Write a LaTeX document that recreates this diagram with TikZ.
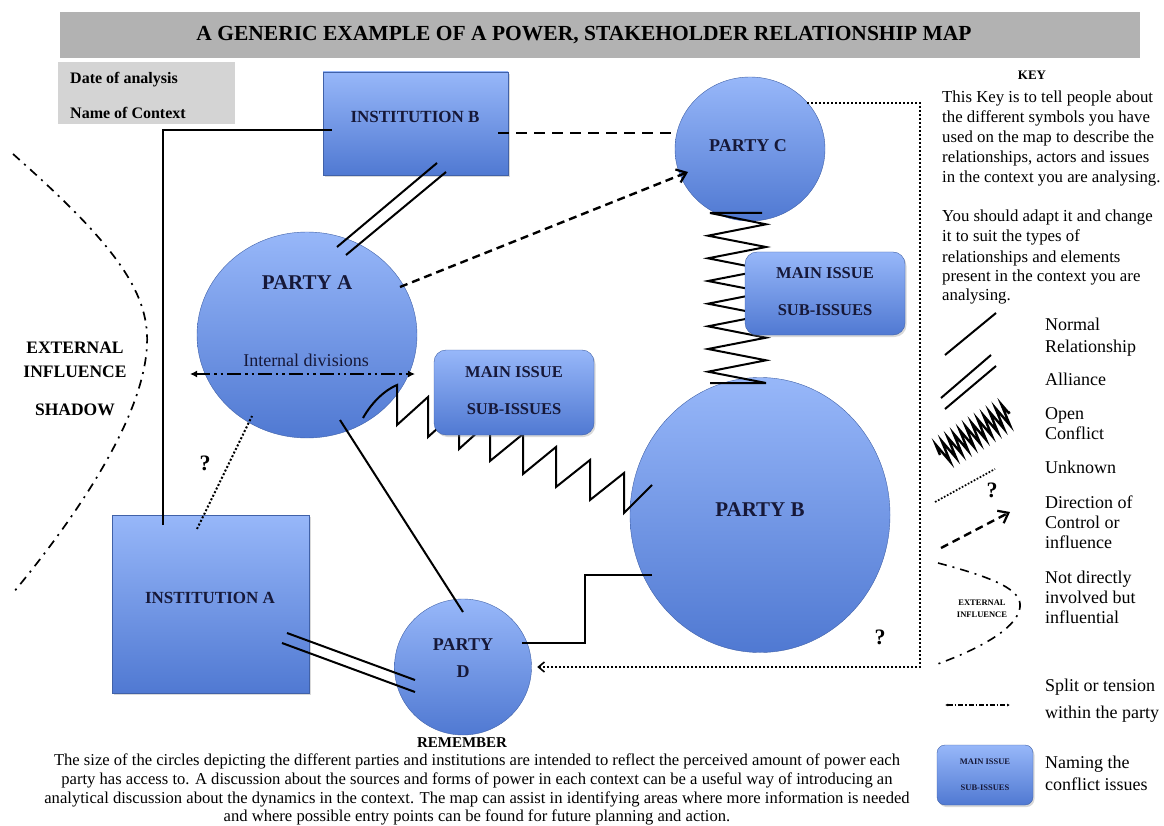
\documentclass[tikz,border=0pt]{standalone}
\usepackage{fontspec}
\setmainfont{Liberation Serif}
\usetikzlibrary{arrows.meta,decorations.pathmorphing,shapes.geometric,shadows,calc}
\definecolor{navy}{HTML}{161838}
\definecolor{btop}{HTML}{97B7F9}
\definecolor{bbot}{HTML}{5079D2}
\definecolor{titlegray}{HTML}{B2B2B2}
\definecolor{dategray}{HTML}{D4D4D4}
\newcommand{\fsz}[1]{\fontsize{#1}{#1}\selectfont}
\begin{document}
\begin{tikzpicture}[x=1pt,y=-1pt,
  blob/.style={top color=btop,bottom color=bbot,draw=bbot!80!black,line width=0.4pt},
  partyshape/.style={blob,ellipse,inner sep=0pt},
  boxshape/.style={blob,rectangle,inner sep=0pt,drop shadow={shadow xshift=1.5pt,shadow yshift=-2pt,opacity=0.3}},
  issueshape/.style={blob,rectangle,rounded corners=12pt,inner sep=0pt,drop shadow={shadow xshift=1.5pt,shadow yshift=-2pt,opacity=0.3}},
  lbl/.style={text=navy,align=center,inner sep=0pt},
  rel/.style={line width=2pt},
  dotline/.style={line width=2pt,dash pattern=on 2pt off 2pt},
  dashline/.style={line width=2pt,dash pattern=on 11pt off 7pt},
  ctrl/.style={line width=2.4pt,dash pattern=on 8pt off 5pt},
  dashdotline/.style={line width=1.7pt,dash pattern=on 9pt off 6pt on 2pt off 6pt},
  keytext/.style={anchor=base west,inner sep=0pt,font=\fsz{18}},
  paratext/.style={anchor=base west,inner sep=0pt,font=\fsz{16.8}},
  bottext/.style={anchor=base,inner sep=0pt,font=\fsz{16.6}},
  barb/.style={-{Straight Barb[length=9pt,width=14pt,line width=2.2pt]}},
]
\useasboundingbox (0,0) rectangle (1164,826);

% title and date box
\node[fill=titlegray,minimum width=1080pt,minimum height=46pt,inner sep=0pt] (title) at (600,35) {};
\node[inner sep=0pt,font=\bfseries\fsz{21.5}] (titletext) at (584,35) {A GENERIC EXAMPLE OF A POWER, STAKEHOLDER RELATIONSHIP MAP};
\node[fill=dategray,minimum width=177pt,minimum height=62pt,inner sep=0pt] (datebox) at (146.5,93) {};
\node[anchor=base west,inner sep=0pt,font=\bfseries\fsz{16}] (date) at (70,84) {Date of analysis};
\node[anchor=base west,inner sep=0pt,font=\bfseries\fsz{16}] (ctx) at (70,119) {Name of Context};

% actors
\node[boxshape,minimum width=185pt,minimum height=103pt] (ib) at (415.5,123.5) {};
\node[boxshape,minimum width=197pt,minimum height=178pt] (ia) at (210.5,604) {};
\node[partyshape,minimum width=220pt,minimum height=206pt] (pa) at (307,335) {};
\node[partyshape,minimum width=260pt,minimum height=275pt] (pb) at (760,515) {};
\node[partyshape,minimum width=150pt,minimum height=144pt] (pc) at (750,149) {};
\node[partyshape,minimum width=137pt,minimum height=136pt] (pd) at (463,667) {};

% external influence shadow
\draw[dashdotline] (13,154) .. controls (110,240) and (150,290) .. (147,345) .. controls (144,410) and (90,500) .. (13,593);
\node[inner sep=0pt,font=\bfseries\fsz{17.5},align=center] (ext1) at (75,348) {EXTERNAL};
\node[inner sep=0pt,font=\bfseries\fsz{17.5},align=center] (ext2) at (75,372) {INFLUENCE};
\node[inner sep=0pt,font=\bfseries\fsz{17.5},align=center] (ext3) at (75,410) {SHADOW};

% connectors
\draw[rel] ($(pa.center)+(30,-88)$) -- ($(ib.center)+(21.5,39.5)$);
\draw[rel] ($(pa.center)+(39,-80)$) -- ($(ib.center)+(30.5,48.5)$);
\draw[dashline] ($(ib.center)+(82.5,9.5)$) -- ($(pc.center)+(-74,-16)$);
\draw[ctrl,barb] ($(pa.center)+(93,-48)$) -- ($(pc.center)+(-62,23)$);
\draw[rel] ($(ia.center)+(-47.5,-79)$) |- ($(ib.center)+(-83.5,6.5)$);
\draw[dotline] ($(ia.center)+(-13.5,-75)$) -- ($(pa.center)+(-55,81)$);
\draw[rel] ($(pa.center)+(33,85)$) -- ($(pd.center)+(0,-55)$);
\draw[rel] ($(pb.center)+(-108,60)$) -| ($(pb.center)+(-175,128)$) -- ($(pd.center)+(59,-24)$);
\draw[dotline,-{Straight Barb[length=6pt,width=10pt,line width=1.6pt]}] ($(pc.center)+(57,-46)$) -- ++(113,0) |- ($(pd.east)+(5.5,0)$);
\draw[rel] ($(ia.center)+(76.5,29)$) -- ($(pd.center)+(-48,13)$);
\draw[rel] ($(ia.center)+(71.5,39)$) -- ($(pd.center)+(-48,25)$);

% internal division
\draw[line width=2.4pt,dash pattern=on 14pt off 4pt on 2.4pt off 4pt on 2.4pt off 4pt,{Latex[length=7pt,width=7pt]}-{Latex[length=7pt,width=7pt]}] ($(pa.center)+(-117,39)$) -- ($(pa.center)+(108,39)$);

% zigzag A - B
\draw[rel,line join=miter] (363,418) .. controls (372,402) and (385,390) .. (397,385) -- (397,425) -- (428,397) -- (428,437) -- (459,409) -- (459,449) -- (490,421) -- (490,461) -- (523,434) -- (523,474) -- (556,447) -- (556,487) -- (590,460) -- (590,500) -- (624,473) -- (624,513) -- (652,485);
% zigzag C - B
\draw[rel] (762,213) -- (710,213) -- (766,224.3) -- (708,235.7) -- (766,247) -- (708,258.3) -- (766,269.7) -- (708,281) -- (766,292.3) -- (708,303.7) -- (766,315) -- (708,326.3) -- (766,337.7) -- (708,349) -- (766,360.3) -- (708,371.7) -- (766,383) -- (710,383);

% issue boxes
\node[issueshape,minimum width=160pt,minimum height=85pt] (mi1) at (514,392.5) {};
\node[issueshape,minimum width=160pt,minimum height=83pt] (mi2) at (825,293.5) {};

% labels
\node[lbl,font=\bfseries\fsz{17}] (ibl) at (415,117) {INSTITUTION B};
\node[lbl,font=\bfseries\fsz{17}] (ial) at (210,598) {INSTITUTION A};
\node[lbl,font=\bfseries\fsz{21}] (pal) at (307,283) {PARTY A};
\node[lbl,font=\fsz{18}] (pai) at (306,360) {Internal divisions};
\node[lbl,font=\bfseries\fsz{21}] (pbl) at (760,510) {PARTY B};
\node[lbl,font=\bfseries\fsz{18}] (pcl) at (748,146) {PARTY C};
\node[lbl,font=\bfseries\fsz{18}] (pdl1) at (463,645) {PARTY};
\node[lbl,font=\bfseries\fsz{18}] (pdl2) at (463,672) {D};
\node[lbl,font=\bfseries\fsz{16.5}] (mi1a) at (514,372) {MAIN ISSUE};
\node[lbl,font=\bfseries\fsz{16.5}] (mi1b) at (514,409) {SUB-ISSUES};
\node[lbl,font=\bfseries\fsz{16.5}] (mi2a) at (825,273) {MAIN ISSUE};
\node[lbl,font=\bfseries\fsz{16.5}] (mi2b) at (825,310) {SUB-ISSUES};
\node[inner sep=0pt,font=\bfseries\fsz{22}] (q1) at (205,463) {?};
\node[inner sep=0pt,font=\bfseries\fsz{22}] (q2) at (880,637) {?};

% key
\node[inner sep=0pt,font=\bfseries\fsz{13}] (key) at (1032,75) {KEY};
\node[paratext] (p1) at (942,103) {This Key is to tell people about};
\node[paratext] (p2) at (942,123) {the different symbols you have};
\node[paratext] (p3) at (942,143) {used on the map to describe the};
\node[paratext] (p4) at (942,163) {relationships, actors and issues};
\node[paratext] (p5) at (942,183) {in the context you are analysing.};
\node[paratext] (p6) at (942,222) {You should adapt it and change};
\node[paratext] (p7) at (942,242) {it to suit the types of};
\node[paratext] (p8) at (942,262) {relationships and elements};
\node[paratext] (p9) at (942,281) {present in the context you are};
\node[paratext] (p10) at (942,300) {analysing.};

\coordinate (k1a) at (945,355); \coordinate (k1b) at (996,313);
\draw[rel] (k1a) -- (k1b);
\node[keytext] (kt1a) at (1045,330) {Normal};
\node[keytext] (kt1b) at (1045,352) {Relationship};
\coordinate (k2a) at (941,398); \coordinate (k2b) at (991,355);
\coordinate (k2c) at (945,409); \coordinate (k2d) at (996,366);
\draw[rel] (k2a) -- (k2b); \draw[rel] (k2c) -- (k2d);
\node[keytext] (kt2) at (1045,385) {Alliance};
\coordinate (k3a) at (940,455); \coordinate (k3b) at (1010,412);
\draw[line width=2.4pt,decorate,decoration={zigzag,segment length=7pt,amplitude=11pt}] (k3a) -- (k3b);
\node[keytext] (kt3a) at (1045,419) {Open};
\node[keytext] (kt3b) at (1045,439) {Conflict};
\coordinate (k4a) at (935,502); \coordinate (k4b) at (995,469);
\draw[dotline,line width=1.7pt,dash pattern=on 1.7pt off 1.7pt] (k4a) -- (k4b);
\node[inner sep=0pt,font=\bfseries\fsz{22}] (kq) at (992,490) {?};
\node[keytext] (kt4) at (1045,473) {Unknown};
\coordinate (k5a) at (941,548); \coordinate (k5b) at (1010,512);
\draw[ctrl,barb] (k5a) -- (k5b);
\node[keytext] (kt5a) at (1045,508) {Direction of};
\node[keytext] (kt5b) at (1045,528) {Control or};
\node[keytext] (kt5c) at (1045,548) {influence};
\draw[dashdotline,line width=1.6pt] (938,563) .. controls (995,578) and (1022,590) .. (1020,607) .. controls (1018,625) and (990,645) .. (935,665);
\node[inner sep=0pt,font=\bfseries\fsz{8.5}] (kext1) at (982,603) {EXTERNAL};
\node[inner sep=0pt,font=\bfseries\fsz{8.5}] (kext2) at (982,615) {INFLUENCE};
\node[keytext] (kt6a) at (1045,583) {Not directly};
\node[keytext] (kt6b) at (1045,603) {involved but};
\node[keytext] (kt6c) at (1045,623) {influential};
\coordinate (k7a) at (945,705); \coordinate (k7b) at (1010,705);
\draw[line width=1.1pt,dash pattern=on 5pt off 2pt on 1.5pt off 2pt,{Latex[length=3pt,width=3pt]}-{Latex[length=3pt,width=3pt]}] (k7a) -- (k7b);
\node[keytext] (kt7a) at (1045,691) {Split or tension};
\node[keytext] (kt7b) at (1045,718) {within the party};
\node[issueshape,rounded corners=8pt,minimum width=96pt,minimum height=60pt] (kbox) at (985,775) {};
\node[lbl,font=\bfseries\fsz{8.5}] (kbox1) at (985,762) {MAIN ISSUE};
\node[lbl,font=\bfseries\fsz{8.5}] (kbox2) at (985,788) {SUB-ISSUES};
\node[keytext] (kt8a) at (1045,768) {Naming the};
\node[keytext] (kt8b) at (1045,790) {conflict issues};

% remember
\node[inner sep=0pt,font=\bfseries\fsz{15}] (rem) at (462,743) {REMEMBER};
\node[bottext] (b1) at (477,765) {The size of the circles depicting the different parties and institutions are intended to reflect the perceived amount of power each};
\node[bottext] (b2) at (477,784) {party has access to. A discussion about the sources and forms of power in each context can be a useful way of introducing an};
\node[bottext] (b3) at (477,803) {analytical discussion about the dynamics in the context. The map can assist in identifying areas where more information is needed};
\node[bottext] (b4) at (477,821) {and where possible entry points can be found for future planning and action.};
\end{tikzpicture}
\end{document}
